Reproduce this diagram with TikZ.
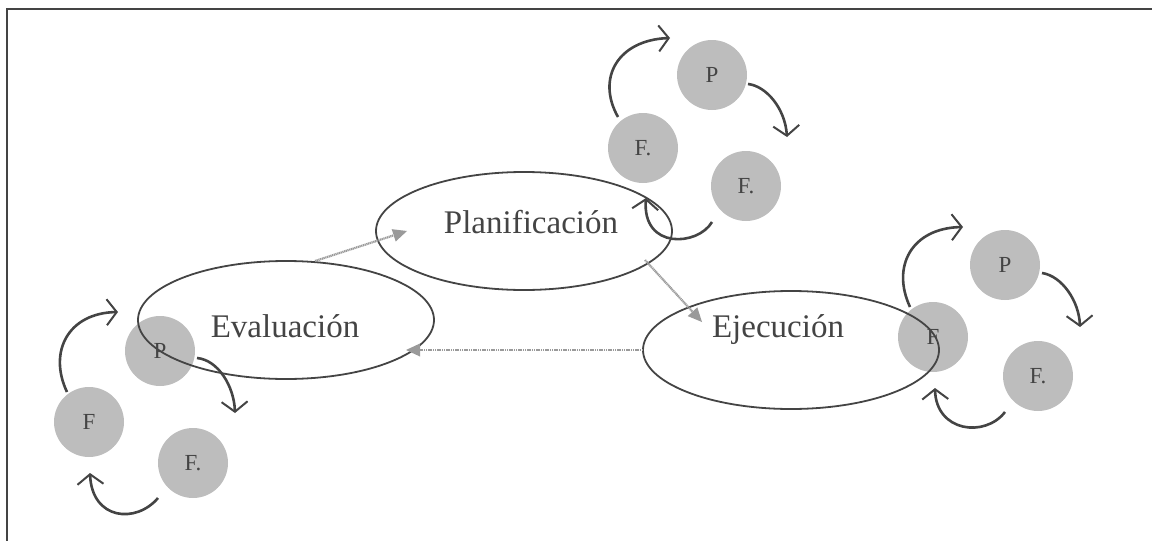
\documentclass[tikz,border=0pt]{standalone}
\usepackage{fontspec}
\setmainfont{Liberation Serif}
\usetikzlibrary{shapes.geometric,arrows.meta}
\definecolor{ink}{HTML}{444444}
\definecolor{dotfill}{HTML}{BDBDBD}
\definecolor{linkc}{HTML}{9A9A9A}
\tikzset{
  ell/.style={draw=ink,line width=1.8pt,ellipse,minimum width=296pt,minimum height=118pt,inner sep=0pt},
  lbl/.style={font=\fontsize{33}{36}\selectfont,text=ink,anchor=base,inner sep=0pt},
  ball/.style={circle,fill=dotfill,minimum size=70pt,inner sep=0pt,font=\fontsize{23}{25}\selectfont,text=ink},
  loop/.style={draw=ink,line width=2.6pt,-{Straight Barb[length=10pt,width=26pt,line width=2pt]}},
  link/.style={draw=linkc,line width=2.2pt,dash pattern=on 1.2pt off 0.6pt,-{Triangle[length=14pt,width=13pt,fill=linkc,line width=0pt]}},
  framel/.style={draw=ink,line width=2pt}
}
\begin{document}
\begin{tikzpicture}[x=1pt,y=-1pt]
\useasboundingbox (0,0) rectangle (1152,541);
\coordinate (fa) at (7,541);
\coordinate (fb) at (7,9);
\coordinate (fc) at (1152,9);
\draw[framel] (fa) -- (fb) -- (fc);

% circles
\node[ball] (tP) at (712,75) {P};
\node[ball] (tF1) at (643,148) {F.};
\node[ball] (tF2) at (746,186) {F.};
\node[ball] (lP) at (160,351) {P};
\node[ball] (lF1) at (89,422) {F};
\node[ball] (lF2) at (193,463) {F.};
\node[ball] (rP) at (1005,265) {P};
\node[ball] (rF1) at (933,337) {F};
\node[ball] (rF2) at (1038,376) {F.};

% ellipses
\node[ell] (plan) at (524,231) {};
\node[ell] (eval) at (286,320) {};
\node[ell] (ejec) at (791,350) {};
\node[lbl] (tplan) at (531,233) {Planificación};
\node[lbl] (teval) at (285,337) {Evaluación};
\node[lbl] (tejec) at (778,337) {Ejecución};

% links between phases
\coordinate (l1s) at (315,261);
\coordinate (l1e) at (407,231);
\coordinate (l2s) at (645,260);
\coordinate (l2e) at (702,322);
\coordinate (l3s) at (643,350);
\coordinate (l3e) at (406,350);
\draw[link] (l1s) -- (l1e);
\draw[link] (l2s) -- (l2e);
\draw[link] (l3s) -- (l3e);

% top cluster loops
\coordinate (ta1) at (618,117); \coordinate (ta2) at (670,38);
\coordinate (tb1) at (748,84);  \coordinate (tb2) at (787,137);
\coordinate (tc1) at (712,222); \coordinate (tc2) at (646,198);
\draw[loop] (ta1) .. controls (596,78) and (618,40) .. (ta2);
\draw[loop] (tb1) .. controls (766,86) and (785,108) .. (tb2);
\draw[loop] (tc1) .. controls (698,246) and (642,250) .. (tc2);

% left cluster loops
\coordinate (la1) at (67,392);  \coordinate (la2) at (118,312);
\coordinate (lb1) at (197,358); \coordinate (lb2) at (235,413);
\coordinate (lc1) at (158,498); \coordinate (lc2) at (90,473);
\draw[loop] (la1) .. controls (48,352) and (68,313) .. (la2);
\draw[loop] (lb1) .. controls (218,360) and (234,386) .. (lb2);
\draw[loop] (lc1) .. controls (136,524) and (92,520) .. (lc2);

% right cluster loops
\coordinate (ra1) at (910,307);  \coordinate (ra2) at (963,227);
\coordinate (rb1) at (1042,273); \coordinate (rb2) at (1080,327);
\coordinate (rc1) at (1005,412); \coordinate (rc2) at (935,388);
\draw[loop] (ra1) .. controls (891,266) and (912,228) .. (ra2);
\draw[loop] (rb1) .. controls (1062,276) and (1079,301) .. (rb2);
\draw[loop] (rc1) .. controls (985,438) and (936,432) .. (rc2);
\end{tikzpicture}
\end{document}
